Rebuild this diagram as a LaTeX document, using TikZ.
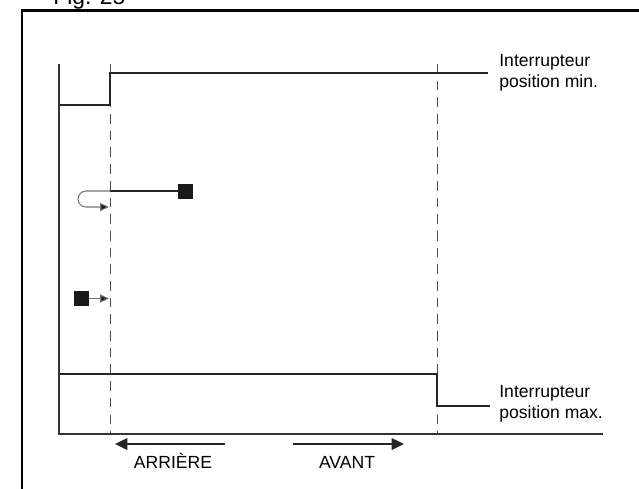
\documentclass[tikz,border=0pt]{standalone}
\usepackage{fontspec}
\setmainfont{Liberation Sans}
\usetikzlibrary{arrows.meta}
\usetikzlibrary{positioning}

\tikzset{
  signal/.style={draw=black!85, line width=0.9pt},
  axe/.style={draw=black!80, line width=0.6pt},
  repere/.style={draw=black!70, line width=0.5pt, dash pattern=on 5.5pt off 4pt},
  boucle/.style={draw=black!55, line width=0.6pt, -{Triangle[length=5pt,width=4.5pt,fill=black!90]}},
  bloc/.style={rectangle, fill=black!90, draw=none, minimum size=0.3cm, inner sep=0pt},
  legende/.style={font=\fontsize{10}{12}\selectfont, align=left, anchor=west, inner sep=0pt},
  sens/.style={draw=black!85, line width=1.2pt, -{Triangle[length=7pt,width=6.5pt]}}
}

\begin{document}
\begin{tikzpicture}[x=0.02cm,y=-0.02cm]
\useasboundingbox (0,0) rectangle (639,488);
% cadre de la figure
\draw[line width=1.7pt] (22,520) -- (22,10) -- (700,10);
\node[font=\fontsize{13}{15}\selectfont, anchor=base west, inner sep=0pt] (fig) at (53,4) {Fig. 25};

% axes et reperes
\coordinate (o) at (59,434);
\coordinate (yHaut) at (59,64);
\coordinate (xFin) at (603,434);
\coordinate (g1) at (110,64);
\coordinate (g0) at (110,434);
\coordinate (d1) at (437,64);
\coordinate (d0) at (437,434);
\draw[axe] (yHaut) -- (o) -- (xFin);
\draw[repere] (g1) -- (g0);
\draw[repere] (d1) -- (d0);

% interrupteur position min.
\draw[signal] (59,105) -| (110,73) -- (488,73);
\node[legende] (min) at (499,72.5) {Interrupteur\\position min.};

% interrupteur position max.
\draw[signal] (59,374) -| (437,406) -- (490,406);
\node[legende] (max) at (499,404) {Interrupteur\\position max.};

% blocs et retours
\node[bloc] (carreA) at (185.5,191) {};
\coordinate (a) at (110,191);
\draw[signal] (carreA.west) -- (a);
\draw[boucle] (a) -- (86,191) arc (270:90:8) -- (109,207);
\node[bloc] (carreB) at (81.5,298.5) {};
\draw[boucle] (carreB.east) -- (109,298.5);

% sens de marche
\coordinate (arr1) at (225,444);
\coordinate (arr0) at (115,444);
\coordinate (av0) at (293,444);
\coordinate (av1) at (404,444);
\draw[sens] (arr1) -- (arr0);
\draw[sens] (av0) -- (av1);
\node[font=\fontsize{10}{12}\selectfont, anchor=base] (arriere) at (173,468) {ARRIÈRE};
\node[font=\fontsize{10}{12}\selectfont, anchor=base] (avant) at (347,468) {AVANT};

\end{tikzpicture}
\end{document}
